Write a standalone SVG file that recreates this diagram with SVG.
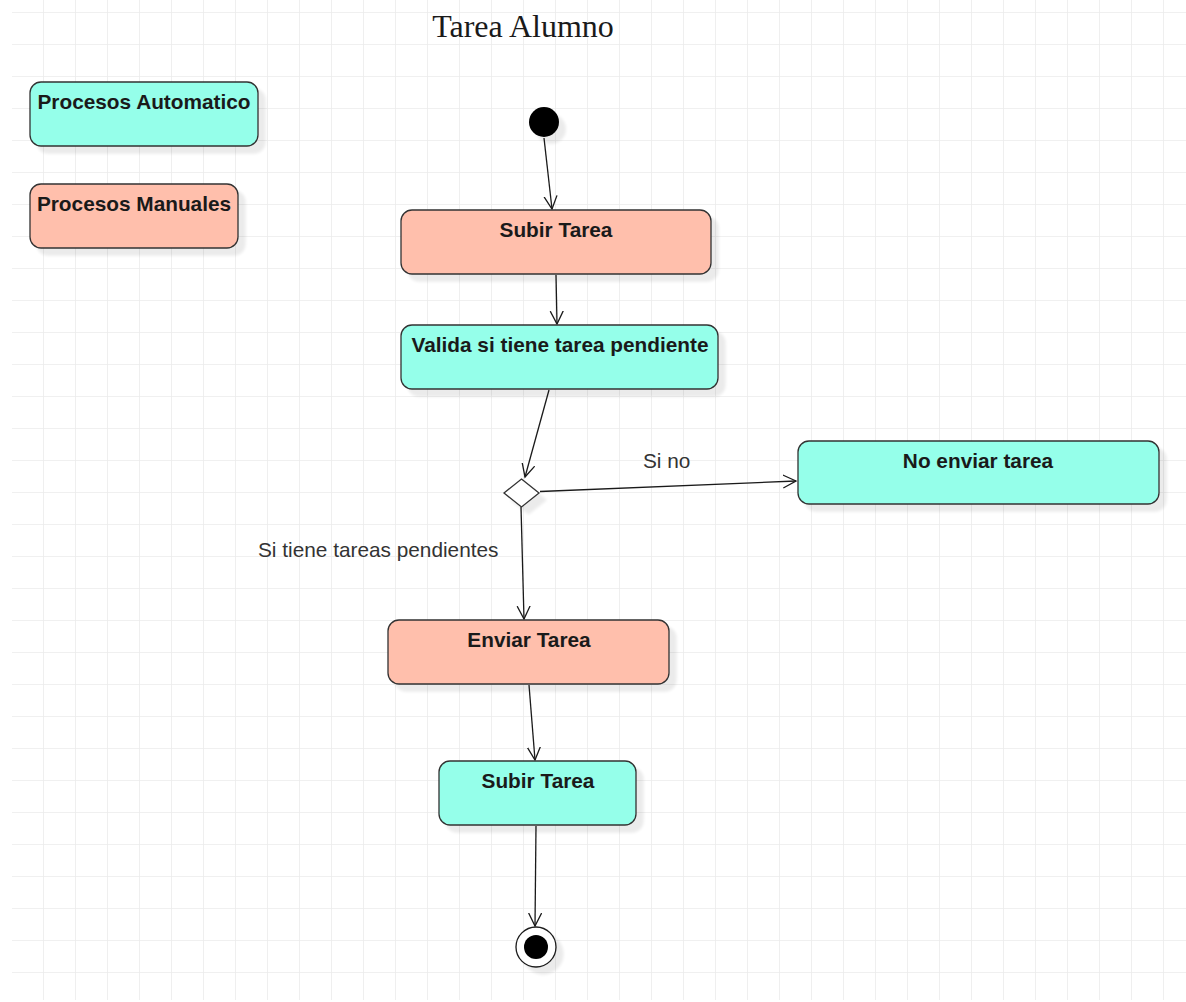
<svg xmlns="http://www.w3.org/2000/svg" width="1186" height="1002" viewBox="0 0 1186 1002">
<style>
.node{stroke:#333;stroke-width:1.3;filter:url(#sh)}
.auto{fill:#95FFEA}
.man{fill:#FFBFAC}
.lbl{font-family:"Liberation Sans",Arial,sans-serif;font-size:20.8px;font-weight:bold;fill:#1a1a1a;text-anchor:middle}
.elbl{font-family:"Liberation Sans",Arial,sans-serif;font-size:20.8px;fill:#333}
.edge{stroke:#1a1a1a;stroke-width:1.3;fill:none;marker-end:url(#arr)}
</style>
<defs>
<pattern id="grid" patternUnits="userSpaceOnUse" x="11" y="12" width="32" height="32">
<path d="M0 0V32M0 0H32" stroke="#ebebeb" stroke-width="1.6" fill="none"/>
</pattern>
<filter id="sh" x="-20%" y="-20%" width="150%" height="160%">
<feGaussianBlur in="SourceAlpha" stdDeviation="1.5"/>
<feOffset dx="7" dy="7" result="b"/>
<feComponentTransfer><feFuncA type="linear" slope="0.08"/></feComponentTransfer>
<feMerge><feMergeNode/><feMergeNode in="SourceGraphic"/></feMerge>
</filter>
<marker id="arr" markerUnits="userSpaceOnUse" markerWidth="16" markerHeight="16" refX="13" refY="7" orient="auto">
<path d="M0 0.5L13 7L0 13.5" stroke="#1a1a1a" stroke-width="1.3" fill="none"/>
</marker>
</defs>
<rect width="1186" height="1002" fill="#fff"/>
<rect x="12" y="0" width="1174" height="1000" fill="url(#grid)"/>
<text x="523" y="37" font-family="'Liberation Serif','Times New Roman',serif" font-size="32" fill="#1a1a1a" text-anchor="middle">Tarea Alumno</text>
<g id="legend-auto"><rect class="node auto" x="30" y="82" width="228" height="64" rx="11"/><text class="lbl" x="144" y="109">Procesos Automatico</text></g>
<g id="legend-man"><rect class="node man" x="30" y="184" width="208" height="64" rx="11"/><text class="lbl" x="134" y="211">Procesos Manuales</text></g>
<g id="edges">
<line class="edge" x1="544" y1="138" x2="552" y2="209"/>
<line class="edge" x1="556" y1="275" x2="557" y2="324"/>
<line class="edge" x1="549" y1="390" x2="525" y2="477"/>
<line class="edge" x1="540" y1="491.5" x2="796" y2="481"/>
<line class="edge" x1="521" y1="507" x2="524" y2="619"/>
<line class="edge" x1="529" y1="685" x2="535" y2="760"/>
<line class="edge" x1="536" y1="826" x2="535" y2="926"/>
<text class="elbl" x="643" y="468">Si no</text>
<text class="elbl" x="258" y="557">Si tiene tareas pendientes</text>
</g>
<g id="start"><circle cx="544" cy="122" r="15" fill="#000" filter="url(#sh)"/></g>
<g id="subir1"><rect class="node man" x="401" y="210" width="310" height="64" rx="11"/><text class="lbl" x="556" y="237">Subir Tarea</text></g>
<g id="valida"><rect class="node auto" x="401" y="325" width="317" height="64" rx="11"/><text class="lbl" x="560" y="352">Valida si tiene tarea pendiente</text></g>
<g id="decision"><path d="M521.5 479L539 493L521.5 507L504 493Z" fill="#fff" stroke="#333" stroke-width="1.3" filter="url(#sh)"/></g>
<g id="noenviar"><rect class="node auto" x="798" y="441" width="361" height="63" rx="11"/><text class="lbl" x="978" y="468">No enviar tarea</text></g>
<g id="enviar"><rect class="node man" x="388" y="620" width="281" height="64" rx="11"/><text class="lbl" x="529" y="647">Enviar Tarea</text></g>
<g id="subir2"><rect class="node auto" x="439" y="761" width="197" height="64" rx="11"/><text class="lbl" x="538" y="788">Subir Tarea</text></g>
<g id="end"><circle cx="536" cy="947" r="20" fill="#fff" stroke="#1a1a1a" stroke-width="1.3" filter="url(#sh)"/><circle cx="536" cy="947" r="12" fill="#000"/></g>
</svg>
